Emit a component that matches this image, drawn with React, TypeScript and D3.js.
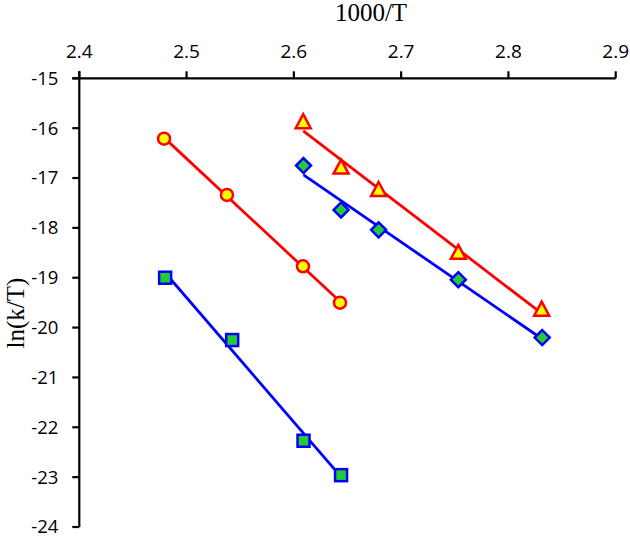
import React from "react";
import * as d3 from "d3";

const xTicks = [2.4, 2.5, 2.6, 2.7, 2.8, 2.9];
const yTicks = [-15, -16, -17, -18, -19, -20, -21, -22, -23, -24];

const circleX = [2.479, 2.5376, 2.6085, 2.643];
const circleY = [-16.21, -17.34, -18.77, -19.5];

const squareX = [2.48, 2.5425, 2.609, 2.644];
const squareY = [-19.0, -20.25, -22.27, -22.96];

const triangleX = [2.6087, 2.644, 2.679, 2.7533, 2.831];
const triangleY = [-15.88, -16.79, -17.24, -18.5, -19.64];

const diamondX = [2.609, 2.644, 2.679, 2.7533, 2.8315];
const diamondY = [-16.75, -17.64, -18.04, -19.04, -20.2];

const RED = "#ff0000";
const BLUE = "#0000ff";
const YELLOW = "#ffff00";
const GREEN = "#22cc33";

function fit(xs: number[], ys: number[]) {
  const mx = d3.mean(xs)!;
  const my = d3.mean(ys)!;
  let sxy = 0, sxx = 0;
  xs.forEach((x, i) => {
    sxy += (x - mx) * (ys[i] - my);
    sxx += (x - mx) * (x - mx);
  });
  const b = sxy / sxx;
  const a = my - b * mx;
  const x0 = d3.min(xs)!, x1 = d3.max(xs)!;
  return [[x0, a + b * x0], [x1, a + b * x1]] as [number, number][];
}

export default function App() {
  const x = d3.scaleLinear().domain([2.4, 2.9]).range([79.3, 615.7]);
  const y = d3.scaleLinear().domain([-15, -24]).range([78.3, 527]);
  const line = d3.line<[number, number]>().x(d => x(d[0])).y(d => y(d[1]));

  const series = [
    { xs: circleX, ys: circleY, lc: RED, sc: RED, fill: YELLOW, shape: "circle" },
    { xs: squareX, ys: squareY, lc: BLUE, sc: BLUE, fill: GREEN, shape: "square" },
    { xs: triangleX, ys: triangleY, lc: RED, sc: RED, fill: YELLOW, shape: "triangle" },
    { xs: diamondX, ys: diamondY, lc: BLUE, sc: BLUE, fill: GREEN, shape: "diamond" },
  ];

  const marker = (shape: string, cx: number, cy: number, stroke: string, fill: string, key: string) => {
    const sw = 2.5;
    if (shape === "circle") return <circle key={key} cx={cx} cy={cy} r={6} fill={fill} stroke={stroke} strokeWidth={sw} />;
    if (shape === "square") return <rect key={key} x={cx - 6} y={cy - 6} width={12} height={12} fill={fill} stroke={stroke} strokeWidth={sw} />;
    if (shape === "diamond") {
      const r = 7.5;
      return <path key={key} d={`M${cx},${cy - r}L${cx + r},${cy}L${cx},${cy + r}L${cx - r},${cy}Z`} fill={fill} stroke={stroke} strokeWidth={sw} />;
    }
    const h = 7;
    return <path key={key} d={`M${cx},${cy - h - 1}L${cx + h + 0.5},${cy + h - 1}L${cx - h - 0.5},${cy + h - 1}Z`} fill={fill} stroke={stroke} strokeWidth={sw} strokeLinejoin="miter" />;
  };

  const tickFont = "Open Sans, Liberation Sans, sans-serif";

  return (
    <svg width={630} height={538} style={{ position: "absolute", left: 0, top: 0, background: "#fff" }}>
      <rect x={0} y={0} width={630} height={538} fill="#fff" />
      {/* axes */}
      <line x1={x(2.4) - 7} x2={x(2.9)} y1={y(-15)} y2={y(-15)} stroke="#000" strokeWidth={2.2} />
      <line x1={x(2.4)} x2={x(2.4)} y1={y(-15) - 7} y2={y(-24)} stroke="#000" strokeWidth={2.2} />
      {xTicks.map(t => (
        <g key={"xt" + t}>
          <line x1={x(t)} x2={x(t)} y1={y(-15) - 7} y2={y(-15)} stroke="#000" strokeWidth={2.2} />
          <text x={x(t)} y={y(-15) - 20} textAnchor="middle" fontFamily={tickFont} fontSize={19} fill="#000">{t.toFixed(1)}</text>
        </g>
      ))}
      {yTicks.map(t => (
        <g key={"yt" + t}>
          <line x1={x(2.4) - 7} x2={x(2.4)} y1={y(t)} y2={y(t)} stroke="#000" strokeWidth={2.2} />
          <text x={x(2.4) - 21} y={y(t)} dy="0.35em" textAnchor="end" fontFamily={tickFont} fontSize={18.5} fill="#000">{t}</text>
        </g>
      ))}
      <text x={371} y={21} textAnchor="middle" fontFamily="Liberation Serif, serif" fontSize={25} fill="#000">1000/T</text>
      <text transform="translate(24,313) rotate(-90)" textAnchor="middle" fontFamily="Liberation Serif, serif" fontSize={25} fill="#000">ln(k/T)</text>
      {/* trend lines */}
      {series.map((s, i) => (
        <path key={"l" + i} d={line(fit(s.xs, s.ys)) || ""} fill="none" stroke={s.lc} strokeWidth={2.8} />
      ))}
      {/* markers */}
      {series.map((s, i) => s.xs.map((xv, j) => marker(s.shape, x(xv), y(s.ys[j]), s.sc, s.fill, `m${i}-${j}`)))}
    </svg>
  );
}
